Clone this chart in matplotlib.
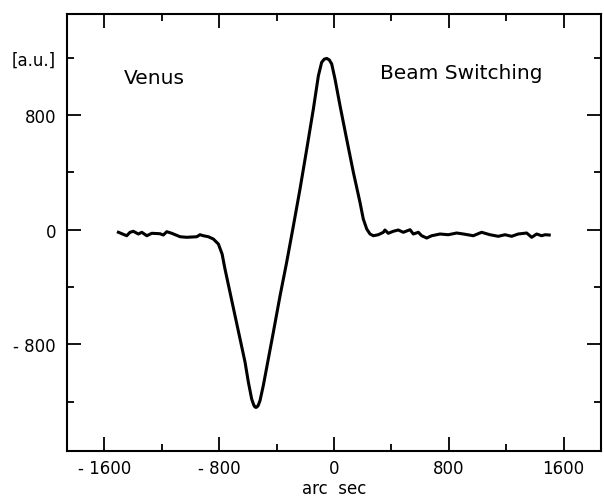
import numpy as np
import matplotlib
matplotlib.use("Agg")
import matplotlib.pyplot as plt

# scan across Venus, beam switching
x_arcsec = [-1503, -1445, -1422, -1399, -1364, -1340, -1305, -1270, -1213, -1190,
            -1166, -1131, -1073, -1027, -957, -934, -911, -876, -841, -806,
            -780, -760, -725, -690, -655, -620, -597, -574, -560, -552, -544,
            -536, -528, -516, -493, -458, -423, -376, -330, -283, -237, -190,
            -144, -109, -86, -68, -51, -33, -16, 7, 42, 88,
            135, 181, 204, 228, 251, 274, 309, 344, 355, 378,
            413, 448, 483, 530, 553, 588, 611, 646, 681, 739,
            797, 855, 902, 971, 1029, 1087, 1145, 1192, 1238, 1284,
            1343, 1378, 1413, 1447, 1471, 1500]
signal = [-18, -42, -18, -11, -30, -18, -42, -25, -28, -37,
          -14, -25, -49, -53, -49, -35, -42, -49, -65, -100,
          -170, -274, -437, -600, -762, -925, -1064, -1181, -1222, -1236, -1240,
          -1236, -1225, -1193, -1088, -902, -716, -460, -227, 28, 284, 563,
          842, 1074, 1168, 1190, 1195, 1185, 1156, 1051, 865, 633,
          400, 191, 75, 5, -30, -42, -35, -18, -2, -25,
          -11, -2, -18, 0, -30, -18, -42, -58, -42, -30,
          -35, -23, -30, -42, -18, -35, -46, -35, -46, -30,
          -23, -53, -30, -42, -35, -37]

xticks = [-1600, -800, 0, 800, 1600]
xticklabels = ['- 1600', '- 800', '0', '800', '1600']
xminor = [-1200, -400, 400, 1200]
yticks = [-800, 0, 800]
yticklabels = ['- 800', '0', '800']
yminor = [-1200, -400, 400, 1200]
yminorlabels = ['', '', '', '[a.u.]']

fig = plt.figure(figsize=(6.04, 5.02), dpi=100)
ax = fig.add_axes([0.111, 0.0996, 0.884, 0.8705])

ax.plot(x_arcsec, signal, color='black', lw=2.2, solid_joinstyle='round')

ax.set_xlim(-1861, 1861)
ax.set_ylim(-1544, 1505)

ax.set_xticks(xticks)
ax.set_xticklabels(xticklabels)
ax.set_xticks(xminor, minor=True)
ax.set_yticks(yticks)
ax.set_yticklabels(yticklabels)
ax.set_yticks(yminor, minor=True)
ax.set_yticklabels(yminorlabels, minor=True)

ax.tick_params(which='both', direction='in', top=True, right=True,
               width=1.3, labelsize=12, pad=8)
ax.tick_params(axis='x', which='both', pad=6)
ax.tick_params(which='major', length=10)
ax.tick_params(which='minor', length=5)
for s in ax.spines.values():
    s.set_linewidth(1.5)

ax.set_xlabel('arc  sec', fontsize=12, labelpad=1)

ax.text(-1463, 1065, 'Venus', fontsize=14.5, va='center', ha='left')
ax.text(320, 1100, 'Beam Switching', fontsize=14.5, va='center', ha='left')

fig.savefig('out.png', dpi=100)
